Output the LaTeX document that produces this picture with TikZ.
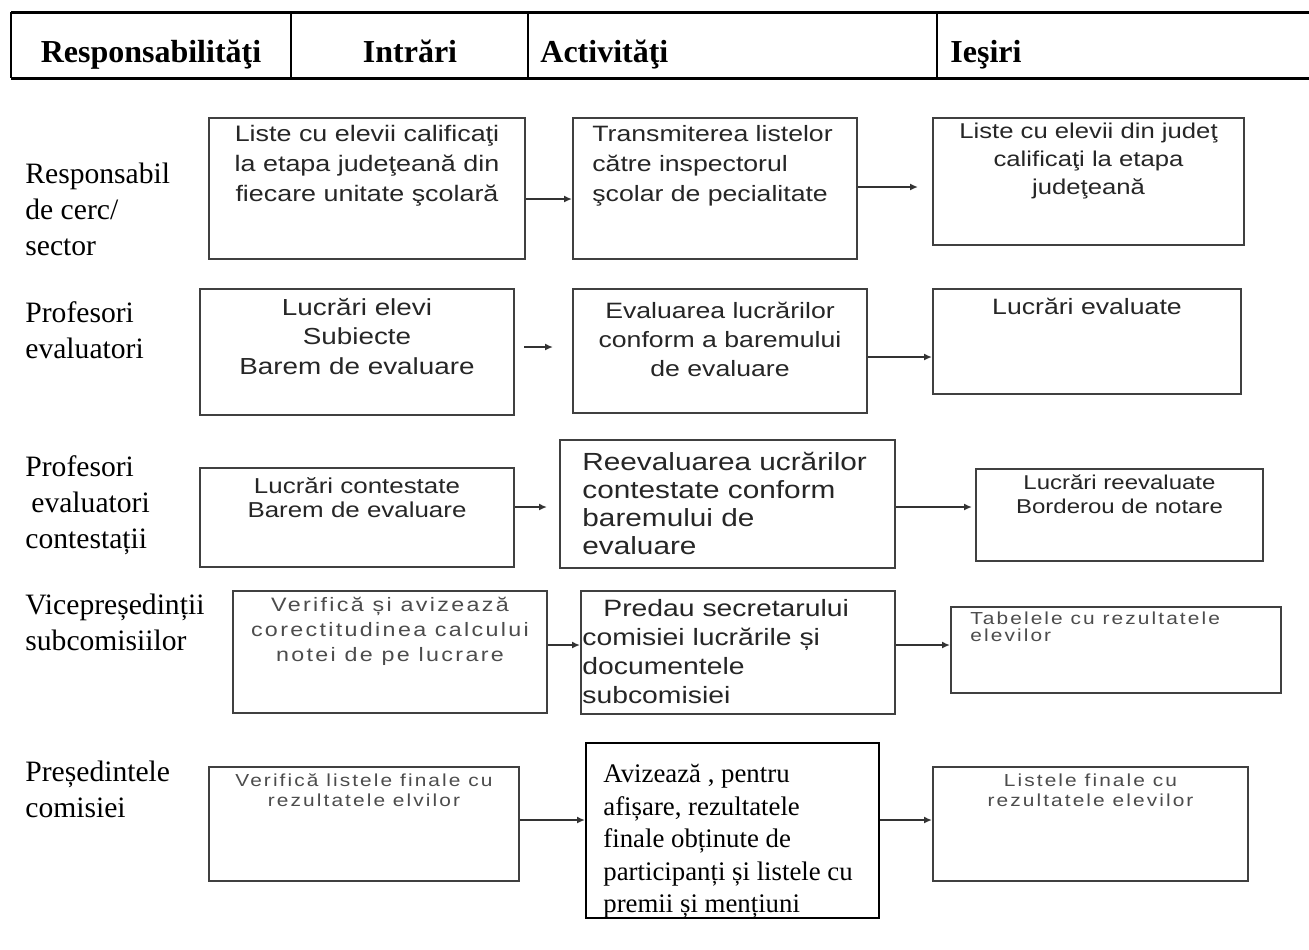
\documentclass[tikz,border=0pt]{standalone}
\usepackage{fontspec}
\setmainfont{Liberation Serif}
\newfontfamily\arialfont{Liberation Sans}[FakeStretch=1.2]
\newfontfamily\thinfont{Liberation Sans}[FakeStretch=1.2,LetterSpace=12]
\usetikzlibrary{arrows.meta}

\tikzset{
  box/.style={draw=black!75, line width=1pt, inner sep=0pt, anchor=north west},
  mid/.style={anchor=north, align=center, inner sep=0pt, text=black!85},
  lft/.style={anchor=north west, align=left, inner sep=0pt, text=black!85},
  role/.style={anchor=north west, align=left, inner sep=0pt, font=\fontsize{14.8}{18}\selectfont},
  head/.style={inner sep=0pt, anchor=base, font=\fontsize{16}{18}\selectfont\bfseries},
  arr/.style={draw=black!80, line width=1.2pt, -{Latex[length=4pt,width=3.5pt]}},
}

\begin{document}
\begin{tikzpicture}[x=0.5pt, y=-0.5pt]
\useasboundingbox (0,0) rectangle (1309,949);
\fill[white] (0,0) rectangle (1309,949);

% header table
\draw[line width=1.5pt] (11,12) -- (1309,12);
\draw[line width=1.5pt] (11,78) -- (1309,78);
\draw[line width=1pt] (11,12) -- (11,78) (291,12) -- (291,78) (528,12) -- (528,78) (937,12) -- (937,78);
\node[head] (h1) at (151,62) {Responsabilităţi};
\node[head] (h2) at (410,62) {Intrări};
\node[head, anchor=base west] (h3) at (540,62) {Activităţi};
\node[head, anchor=base west] (h4) at (950,62) {Ieşiri};

% roles
\node[role] (r1) at (25,163) {Responsabil\\de cerc/\\sector};
\node[role] (r2) at (25,301) {Profesori\\evaluatori};
\node[role] (r3) at (25,455) {Profesori\\\hspace*{3pt}evaluatori\\contestații};
\node[role] (r4) at (25,594) {Vicepreședinții\\subcomisiilor};
\node[role] (r5) at (25,761) {Președintele\\comisiei};

% row 1
\node[box, minimum width=158pt, minimum height=70.5pt,
  label={[mid, name=a1t, yshift=-3.8pt, font=\arialfont\fontsize{11.2}{15}\selectfont]north:{Liste cu elevii calificaţi\\la etapa judeţeană din\\fiecare unitate şcolară}}] (a1) at (208,117) {};
\node[box, minimum width=142pt, minimum height=70.5pt,
  label={[lft, name=b1t, xshift=10pt, yshift=-4pt, font=\arialfont\fontsize{11.1}{15}\selectfont]north west:{Transmiterea listelor\\către inspectorul\\şcolar de pecialitate}}] (b1) at (572,117) {};
\node[box, minimum width=155.5pt, minimum height=63.5pt,
  label={[mid, name=c1t, yshift=-2.75pt, font=\arialfont\fontsize{10.7}{14}\selectfont]north:{Liste cu elevii din judeţ\\calificaţi la etapa\\judeţeană}}] (c1) at (932,117) {};
\draw[arr] (a1.east |- 0,199) -- (b1.west |- 0,199);
\draw[arr, shorten >=7pt] (b1.east |- 0,187) -- (c1.west |- 0,187);

% row 2
\node[box, minimum width=157pt, minimum height=63pt,
  label={[mid, name=a2t, yshift=-5pt, font=\arialfont\fontsize{11.6}{14.7}\selectfont]north:{Lucrări elevi\\Subiecte\\Barem de evaluare}}] (a2) at (199,288) {};
\node[box, minimum width=147pt, minimum height=62pt,
  label={[mid, name=b2t, yshift=-7pt, font=\arialfont\fontsize{11.1}{14.5}\selectfont]north:{Evaluarea lucrărilor\\conform a baremului\\de evaluare}}] (b2) at (572,288) {};
\node[box, minimum width=154pt, minimum height=52.5pt,
  label={[mid, name=c2t, yshift=-5pt, font=\arialfont\fontsize{11.1}{14}\selectfont]north:{Lucrări evaluate}}] (c2) at (932,288) {};
\draw[arr, shorten <=4.5pt, shorten >=9.5pt] (a2.east |- 0,347) -- (b2.west |- 0,347);
\draw[arr] (b2.east |- 0,357) -- (c2.west |- 0,357);

% row 3
\node[box, minimum width=157pt, minimum height=49.5pt,
  label={[mid, name=a3t, yshift=-5pt, font=\arialfont\fontsize{10.8}{12}\selectfont]north:{Lucrări contestate\\Barem de evaluare}}] (a3) at (199,467) {};
\node[box, minimum width=167.5pt, minimum height=64pt,
  label={[lft, name=b3t, xshift=11.5pt, yshift=-6.5pt, font=\arialfont\fontsize{12.4}{14}\selectfont]north west:{Reevaluarea ucrărilor\\contestate conform\\baremului de\\evaluare}}] (b3) at (559,439) {};
\node[box, minimum width=143.5pt, minimum height=46pt,
  label={[mid, name=c3t, yshift=-3pt, font=\arialfont\fontsize{10}{12}\selectfont]north:{Lucrări reevaluate\\Borderou de notare}}] (c3) at (975,468) {};
\draw[arr, shorten >=6pt] (a3.east |- 0,507) -- (b3.west |- 0,507);
\draw[arr, shorten >=1.5pt] (b3.east |- 0,507) -- (c3.west |- 0,507);

% row 4
\node[box, minimum width=157pt, minimum height=61pt,
  label={[mid, name=a4t, yshift=-3.5pt, text=black!70, font=\thinfont\fontsize{9.7}{12.5}\selectfont]north:{Verifică și avizează\\corectitudinea calcului\\notei de pe lucrare}}] (a4) at (232,590) {};
\node[box, minimum width=157pt, minimum height=61.5pt,
  label={[lft, name=b4t, xshift=1pt, yshift=-4.25pt, font=\arialfont\fontsize{11.8}{14.5}\selectfont]north west:{\hspace*{10.5pt}Predau secretarului\\comisiei lucrările și\\documentele\\subcomisiei}}] (b4) at (580,590) {};
\node[box, minimum width=165pt, minimum height=43pt,
  label={[lft, name=c4t, xshift=10pt, yshift=-2.5pt, text=black!70, font=\thinfont\fontsize{8.7}{8.5}\selectfont]north west:{Tabelele cu rezultatele\\elevilor}}] (c4) at (950,606) {};
\draw[arr] (a4.east |- 0,645) -- (b4.west |- 0,645);
\draw[arr] (b4.east |- 0,645) -- (c4.west |- 0,645);

% row 5
\node[box, minimum width=155pt, minimum height=57pt,
  label={[mid, name=a5t, yshift=-3.5pt, text=black!70, font=\thinfont\fontsize{8.7}{10}\selectfont]north:{Verifică listele finale cu\\rezultatele elvilor}}] (a5) at (208,766) {};
\node[box, draw=black, minimum width=146.5pt, minimum height=87.5pt,
  label={[lft, name=b5t, xshift=9pt, yshift=-11pt, text=black, font=\fontsize{13.4}{16.25}\selectfont]north west:{Avizează , pentru\\afișare, rezultatele\\finale obținute de\\participanți și listele cu\\premii și mențiuni}}] (b5) at (585,742) {};
\node[box, minimum width=157.5pt, minimum height=57pt,
  label={[mid, name=c5t, yshift=-3.5pt, text=black!70, font=\thinfont\fontsize{8.7}{10}\selectfont]north:{Listele finale cu\\rezultatele elevilor}}] (c5) at (932,766) {};
\draw[arr] (a5.east |- 0,820) -- (b5.west |- 0,820);
\draw[arr] (b5.east |- 0,820) -- (c5.west |- 0,820);
\end{tikzpicture}
\end{document}
